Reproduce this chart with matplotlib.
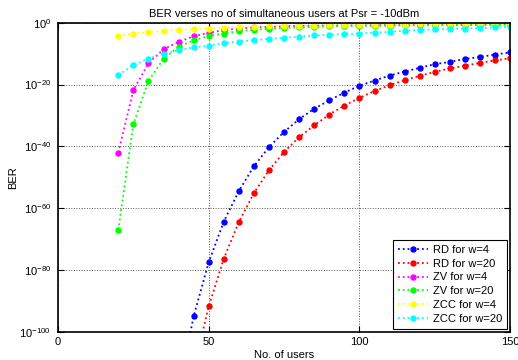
import numpy as np
import matplotlib
matplotlib.use("Agg")
import matplotlib.pyplot as plt
from matplotlib.ticker import FixedLocator, FuncFormatter

plt.rcParams["font.family"] = ["Liberation Sans", "DejaVu Sans"]
plt.rcParams["mathtext.default"] = "regular"

# number of simultaneous users (markers every 5 users)
users = np.arange(20, 155, 5)
users_rd4 = np.arange(40, 155, 5)
users_rd20 = np.arange(45, 155, 5)

# log10(BER) for each code family
rd_w4 = [-119, -94.9, -77.4, -64.3, -54.4, -46.4, -40.2, -35.3, -31.2, -27.8, -25.1, -22.6,
         -20.4, -18.7, -17.1, -15.8, -14.6, -13.4, -12.7, -11.7, -11.1, -10.3, -9.6]
rd_w20 = [-112, -91.7, -76.3, -64.4, -55.1, -47.7, -41.8, -37.0, -33.2, -29.7, -26.8,
          -24.3, -22.1, -20.2, -18.6, -17.2, -15.9, -14.8, -13.9, -13.0, -12.2, -11.5]
zv_w4 = [-42.0, -21.8, -13.1, -8.6, -6.2, -4.4, -3.3, -2.4, -1.9, -1.55, -1.35, -1.15, -1.0,
         -0.95, -0.9, -0.88, -0.85, -0.82, -0.78, -0.75, -0.72, -0.7, -0.67, -0.64, -0.61,
         -0.58, -0.55]
zv_w20 = [-67.0, -32.8, -18.8, -11.7, -7.8, -5.7, -4.3, -3.5, -2.75, -2.3, -2.0, -1.7, -1.55,
          -1.35, -1.2, -1.1, -1.05, -1.0, -0.95, -0.9, -0.85, -0.8, -0.78, -0.75, -0.72,
          -0.7, -0.68]
zcc_w4 = [-4.3, -3.5, -3.1, -2.6, -2.3, -2.1, -1.9, -1.7, -1.5, -1.35, -1.2, -1.1, -1.0,
          -0.95, -0.9, -0.85, -0.8, -0.7, -0.65, -0.6, -0.55, -0.5, -0.45, -0.4, -0.38,
          -0.35, -0.3]
zcc_w20 = [-16.9, -13.75, -11.6, -10.0, -8.9, -8.0, -7.4, -6.6, -6.1, -5.7, -5.2, -4.9, -4.5,
           -4.1, -3.9, -3.7, -3.5, -3.2, -3.0, -2.6, -2.4, -2.2, -2.1, -1.9, -1.7, -1.55,
           -1.35]

series = [
    (users_rd4, rd_w4, "#0000ff", "RD for w=4"),
    (users_rd20, rd_w20, "#ff0000", "RD for w=20"),
    (users, zv_w4, "#ff00ff", "ZV for w=4"),
    (users, zv_w20, "#00ff00", "ZV for w=20"),
    (users, zcc_w4, "#ffff00", "ZCC for w=4"),
    (users, zcc_w20, "#00ffff", "ZCC for w=20"),
]

fig = plt.figure(figsize=(5.18, 3.60), dpi=100)
ax = fig.add_axes([0.112, 0.078, 0.873, 0.859])

for x, e, c, lab in series:
    ax.semilogy(x, 10.0 ** np.array(e), ":", color=c, lw=1.3, marker="o", ms=3.6,
                mec=c, mfc=c, label=lab)

ax.set_xlim(0, 150)
ax.set_ylim(1e-100, 1e0)
ax.set_xticks([0, 50, 100, 150])
ax.yaxis.set_major_locator(FixedLocator([10.0 ** k for k in range(-100, 1, 20)]))
ax.yaxis.set_minor_locator(FixedLocator([]))
ax.yaxis.set_major_formatter(FuncFormatter(lambda v, p: r"$10^{%d}$" % round(np.log10(v))))
ax.tick_params(direction="in", top=True, right=True, labelsize=8, length=4, width=0.8)
ax.tick_params(axis="y", pad=5)
ax.grid(True, color="#555555", ls=":", lw=0.7)
for s in ax.spines.values():
    s.set_linewidth(1.2)

ax.set_title("BER verses no of simultaneous users at Psr = -10dBm", fontsize=8, pad=4)
ax.set_xlabel("No. of users", fontsize=8, labelpad=2)
ax.set_ylabel("BER", fontsize=8, labelpad=1)

leg = ax.legend(loc="lower right", fontsize=8, frameon=True, fancybox=False,
                edgecolor="black", framealpha=1, handlelength=2.7, handletextpad=0.5,
                borderpad=0.4, labelspacing=0.35, borderaxespad=0.3)
leg.get_frame().set_linewidth(0.8)

fig.savefig("out.png", dpi=100)
